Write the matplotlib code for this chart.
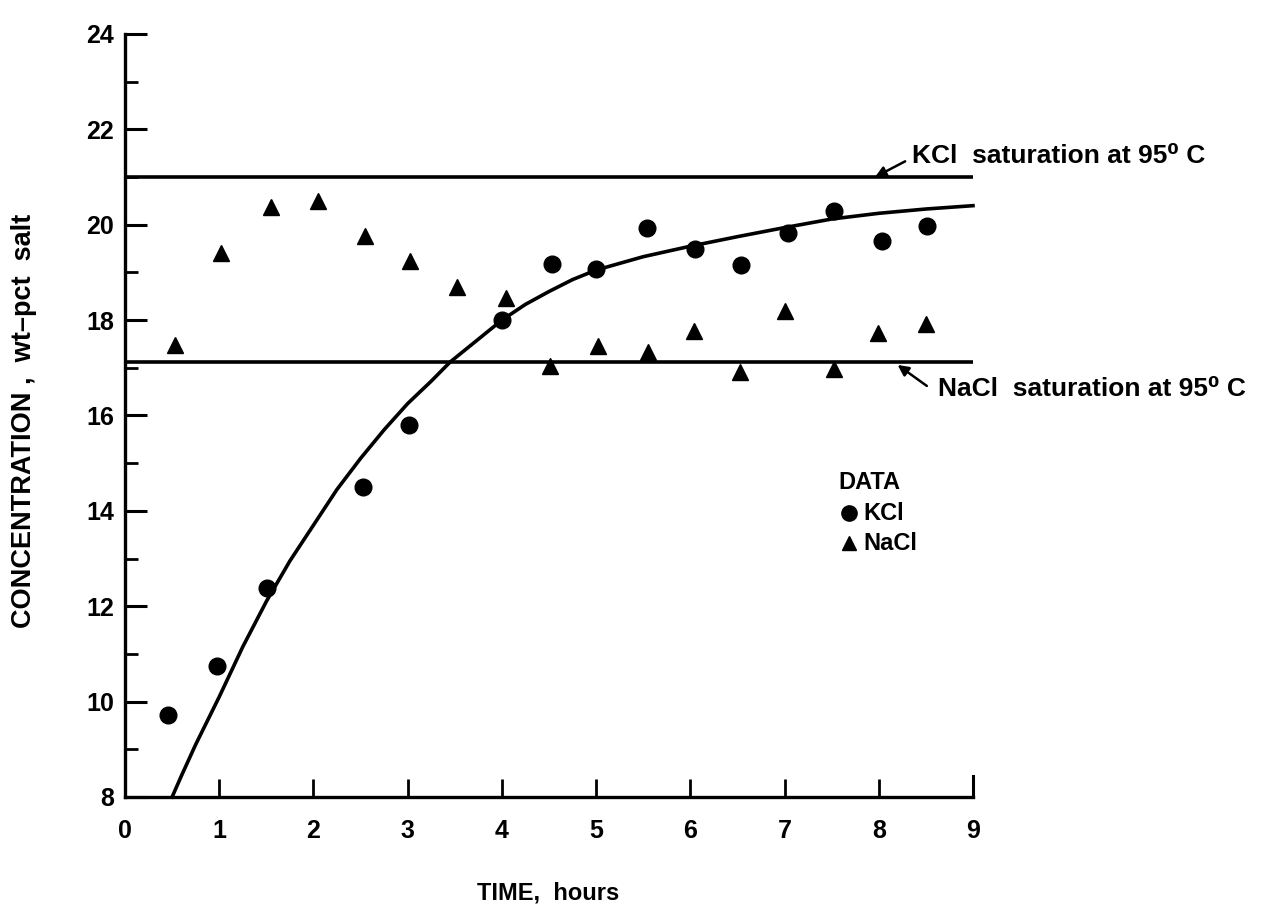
import matplotlib
matplotlib.use("Agg")
import matplotlib.pyplot as plt
from matplotlib.ticker import MultipleLocator

plt.rcParams['font.family'] = ['Liberation Sans', 'DejaVu Sans']
plt.rcParams['font.weight'] = 'bold'

# KCl data (circles)
kcl_time = [0.46, 0.98, 1.51, 2.53, 3.01, 4.0, 4.53, 5.0, 5.54, 6.05, 6.54, 7.04, 7.53, 8.03, 8.51]
kcl_conc = [9.73, 10.74, 12.38, 14.5, 15.81, 18.0, 19.18, 19.07, 19.94, 19.49, 19.16, 19.83, 20.29, 19.66, 19.98]

# NaCl data (triangles)
nacl_time = [0.53, 1.02, 1.55, 2.05, 2.55, 3.03, 3.52, 4.04, 4.51, 5.02, 5.55, 6.04, 6.53, 7.0, 7.52, 7.99, 8.5]
nacl_conc = [17.47, 19.41, 20.38, 20.5, 19.77, 19.24, 18.69, 18.46, 17.03, 17.45, 17.33, 17.77, 16.92, 18.19, 16.97, 17.73, 17.92]

# Fitted KCl curve
curve_time = [0.5, 0.6, 0.75, 1.0, 1.25, 1.5, 1.75, 2.0, 2.25, 2.5, 2.75, 3.0, 3.25, 3.45, 3.75, 4.0,
              4.25, 4.5, 4.75, 5.0, 5.5, 6.0, 6.5, 7.0, 7.5, 8.0, 8.5, 9.0]
curve_conc = [8.0, 8.45, 9.1, 10.1, 11.15, 12.1, 12.95, 13.7, 14.45, 15.1, 15.7, 16.25, 16.72, 17.12, 17.6, 18.0,
              18.33, 18.6, 18.85, 19.05, 19.33, 19.55, 19.75, 19.94, 20.12, 20.24, 20.33, 20.4]

kcl_sat = 21.0
nacl_sat = 17.12

x_ticks = [0, 1, 2, 3, 4, 5, 6, 7, 8, 9]
y_ticks = [8, 10, 12, 14, 16, 18, 20, 22, 24]

fig = plt.figure(figsize=(12.63, 9.19), dpi=100)
ax = fig.add_axes([125 / 1263, 1 - 797 / 919, (973 - 125) / 1263, (797 - 34) / 919])

ax.set_xlim(0, 9)
ax.set_ylim(8, 24)

ax.plot([0, 9], [kcl_sat, kcl_sat], color='black', lw=2.6, solid_capstyle='butt')
ax.plot([0, 9], [nacl_sat, nacl_sat], color='black', lw=2.6, solid_capstyle='butt')
ax.plot(curve_time, curve_conc, color='black', lw=2.6, clip_on=False)

ax.plot(kcl_time, kcl_conc, 'o', color='black', markersize=12, clip_on=False)
ax.plot(nacl_time, nacl_conc, '^', color='black', markersize=11.5, clip_on=False)

for s in ['top', 'right']:
    ax.spines[s].set_visible(False)
for s in ['left', 'bottom']:
    ax.spines[s].set_linewidth(2.4)

ax.set_xticks(x_ticks)
ax.set_yticks(y_ticks)
ax.yaxis.set_minor_locator(MultipleLocator(1))
ax.tick_params(axis='y', which='major', direction='in', length=16, width=2.2, labelsize=18, pad=8)
ax.tick_params(axis='y', which='minor', direction='in', length=9, width=2.0)
ax.tick_params(axis='x', which='major', direction='in', length=13, width=2.0, labelsize=18, pad=16)
for lab in ax.get_xticklabels() + ax.get_yticklabels():
    lab.set_fontweight('bold')

# right end tick of the x axis
ax.plot([9, 9], [8, 8.45], color='black', lw=2.2, clip_on=False)

# annotations: arrows
arrow_kw = dict(arrowstyle='-|>', color='black', lw=1.8, mutation_scale=16, shrinkA=0, shrinkB=0)
ax.annotate('', xy=(7.96, kcl_sat), xytext=(8.28, 21.33), annotation_clip=False, arrowprops=arrow_kw)
ax.annotate('', xy=(8.2, nacl_sat - 0.06), xytext=(8.51, 16.62), annotation_clip=False, arrowprops=arrow_kw)
# annotations: text
ax.text(8.35, 21.45, 'KCl  saturation at 95\u2070 C', fontsize=19, fontweight='bold',
        va='center', ha='left', clip_on=False)
ax.text(8.63, 16.56, 'NaCl  saturation at 95\u2070 C', fontsize=19, fontweight='bold',
        va='center', ha='left', clip_on=False)

# legend block
fig.text(838 / 1263, 1 - 483 / 919, 'DATA', fontsize=17, fontweight='bold', va='center', ha='left')
fig.lines.append(plt.Line2D([849 / 1263], [1 - 513 / 919], marker='o', color='black',
                            markersize=11, transform=fig.transFigure))
fig.lines.append(plt.Line2D([849 / 1263], [1 - 543 / 919], marker='^', color='black',
                            markersize=10, transform=fig.transFigure))
fig.text(863 / 1263, 1 - 513 / 919, 'KCl', fontsize=17, fontweight='bold', va='center', ha='left')
fig.text(863 / 1263, 1 - 543 / 919, 'NaCl', fontsize=17, fontweight='bold', va='center', ha='left')

fig.text(548 / 1263, 1 - 893 / 919, 'TIME,  hours', fontsize=17, fontweight='bold',
         ha='center', va='center')
fig.text(24 / 1263, 1 - 421 / 919, 'CONCENTRATION ,  wt\u2013pct  salt', fontsize=19.5,
         fontweight='bold', rotation=90, ha='center', va='center')

fig.savefig('out.png', dpi=100, facecolor='white')
